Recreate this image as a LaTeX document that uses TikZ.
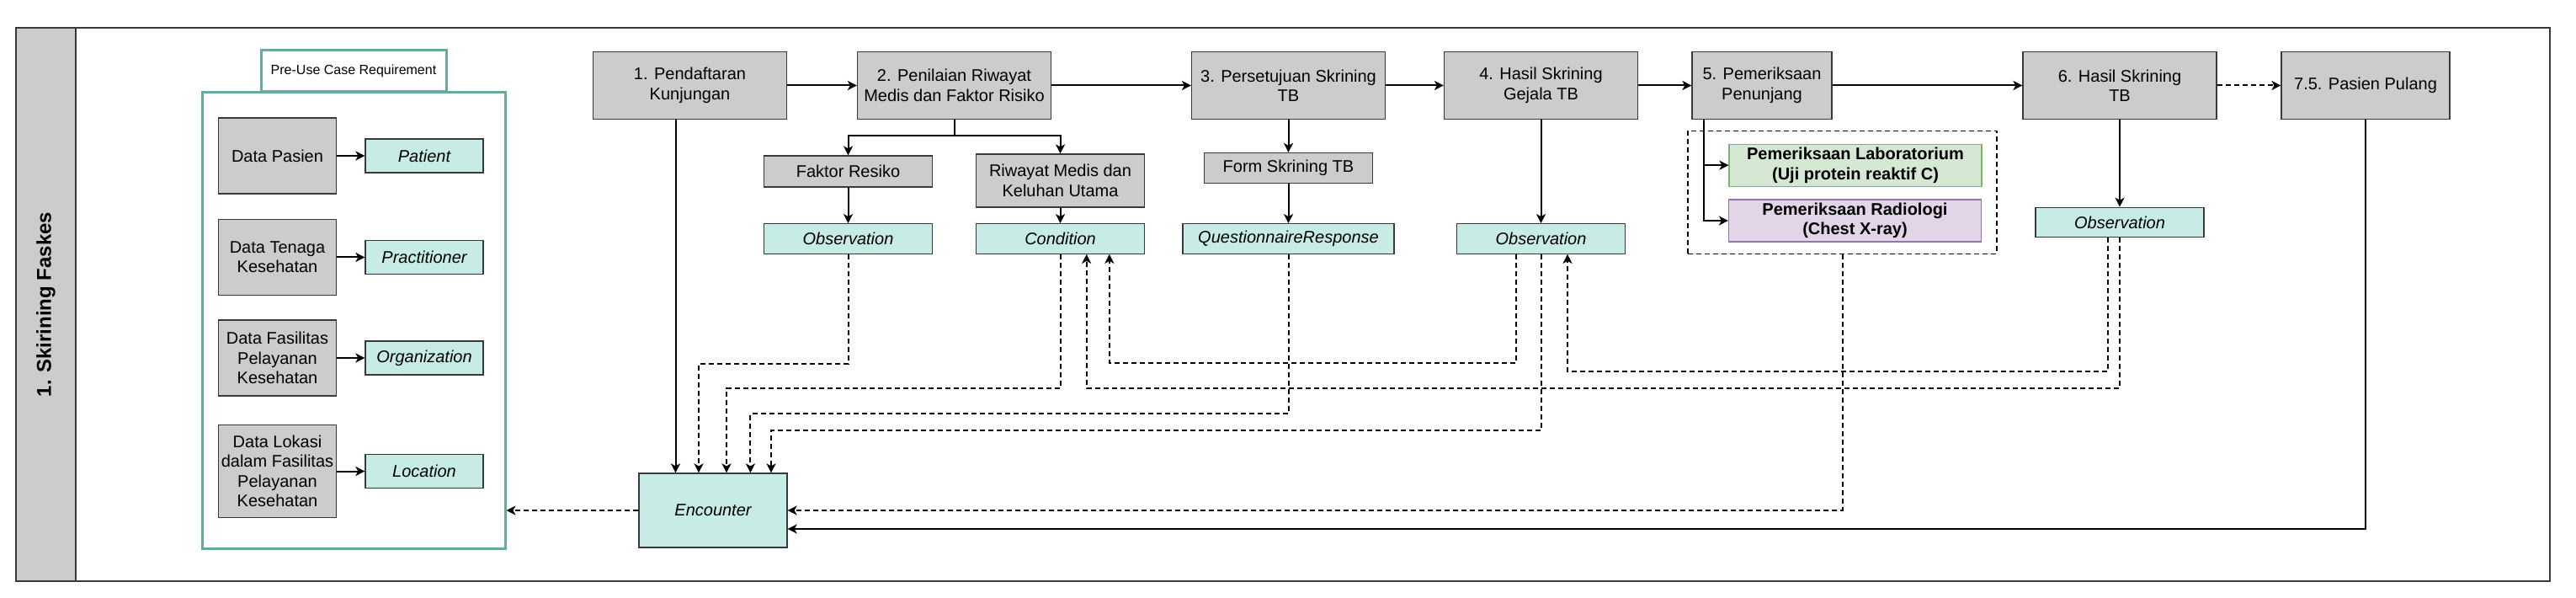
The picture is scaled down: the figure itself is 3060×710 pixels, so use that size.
\documentclass[tikz,border=0pt]{standalone}
\usepackage{fontspec}
\setmainfont{Liberation Sans}
\usetikzlibrary{arrows.meta,positioning,calc}
\definecolor{fkGrey}{HTML}{CCCCCC}
\definecolor{fkLine}{HTML}{36393D}
\definecolor{fkTeal}{HTML}{C7ECE5}
\definecolor{fkTealRule}{HTML}{67AB9F}
\definecolor{fkGreen}{HTML}{D5E8D4}
\definecolor{fkGreenRule}{HTML}{82B366}
\definecolor{fkPurple}{HTML}{E1D5E7}
\definecolor{fkPurpleRule}{HTML}{9673A6}

\begin{document}
\begin{tikzpicture}[x=0.5pt,y=-0.5pt,font=\fontsize{10}{11.7}\selectfont,
  gb/.style={draw=fkLine,fill=fkGrey,line width=0.6pt,inner sep=0pt,align=center,
             minimum width=100pt,minimum height=18pt},
  st/.style={gb,minimum width=115pt,minimum height=40pt},
  db/.style={gb,minimum width=70pt,minimum height=45pt},
  rs/.style={gb,fill=fkTeal,font=\fontsize{10}{11.7}\selectfont\itshape,minimum height=17.75pt},
  a/.style={-{Stealth[length=5.5pt,width=5.5pt,inset=1.5pt]},line width=1pt},
  da/.style={a,dash pattern=on 3pt off 2pt}]
\useasboundingbox (0,0) rectangle (3060,710);
% lane
\node[draw=fkLine,line width=1pt,minimum width=1505pt,minimum height=328.5pt] (lane) at (1524,361.5) {};
\node[draw=fkLine,fill=fkGrey,line width=1pt,rotate=90,minimum width=328.5pt,minimum height=35.5pt,
      font=\fontsize{12}{14}\selectfont\bfseries] (head) at (54.5,361.5) {1. Skirining Faskes};
% pre-use case requirement
\node[draw=fkTealRule,line width=1.5pt,minimum width=180pt,minimum height=270.5pt] (cont) at (420,380.5) {};
\node[draw=fkTealRule,line width=1.5pt,fill=white,minimum width=110pt,minimum height=24.5pt,
      font=\fontsize{8}{9.6}\selectfont] (tab) at (420,84.5) {Pre-Use Case Requirement};
\node[db] (dp) at (329.5,185)   {Data Pasien};
\node[db] (dt) at (329.5,305.5) {Data Tenaga\\Kesehatan};
\node[db] (df) at (329.5,425)   {Data Fasilitas\\Pelayanan\\Kesehatan};
\node[db,minimum height=55pt] (dl) at (329.5,559.5) {Data Lokasi\\dalam Fasilitas\\Pelayanan\\Kesehatan};
\node[rs,minimum width=70pt,minimum height=20pt] (pt) at (504,185)   {Patient};
\node[rs,minimum width=70pt,minimum height=20pt] (pr) at (504,305.5) {Practitioner};
\node[rs,minimum width=70pt,minimum height=20pt] (og) at (504,425)   {Organization};
\node[rs,minimum width=70pt,minimum height=20pt] (lc) at (504,559.5) {Location};
\draw[a] (dp) -- (pt);
\draw[a] (dt) -- (pr);
\draw[a] (df) -- (og);
\draw[a] (dl) -- (lc);
% steps
\node[st] (s1) at (819.5,101.5)  {1. Pendaftaran\\Kunjungan};
\node[st] (s2) at (1133.5,101.5) {2. Penilaian Riwayat\\Medis dan Faktor Risiko};
\node[st] (s3) at (1530.5,101.5) {3. Persetujuan Skrining\\TB};
\node[st] (s4) at (1830.5,101.5) {4. Hasil Skrining\\Gejala TB};
\node[st,minimum width=83pt] (s5) at (2093,101.5) {5. Pemeriksaan\\Penunjang};
\node[st] (s6) at (2518,101.5)   {6. Hasil Skrining\\TB};
\node[st,minimum width=100pt] (s7) at (2810,101.5) {7.5. Pasien Pulang};
\node[gb,minimum height=18.5pt] (fr) at (1007.5,203.5) {Faktor Resiko};
\node[gb,minimum height=31.5pt] (rw) at (1259.5,214.5) {Riwayat Medis dan\\Keluhan Utama};
\node[gb] (fm) at (1530.5,199.5) {Form Skrining TB};
\node[rs] (o1) at (1007.5,283.5) {Observation};
\node[rs] (cd) at (1259.5,283.5) {Condition};
\node[rs,minimum width=125.5pt] (qr) at (1530.5,283.5) {QuestionnaireResponse};
\node[rs] (o2) at (1830.5,283.5) {Observation};
\node[rs] (o3) at (2518,264)     {Observation};
\node[draw,line width=0.8pt,dash pattern=on 3pt off 2pt,minimum width=183.5pt,minimum height=73pt] (gp) at (2188.5,228.4) {};
\node[gb,fill=fkGreen,draw=fkGreenRule,font=\fontsize{10}{11.7}\selectfont\bfseries,minimum width=150pt,minimum height=25pt]
  (lb) at (2204,196.2) {Pemeriksaan Laboratorium\\(Uji protein reaktif C)};
\node[gb,fill=fkPurple,draw=fkPurpleRule,font=\fontsize{10}{11.7}\selectfont\bfseries,minimum width=150pt,minimum height=25pt]
  (rd) at (2203.5,262) {Pemeriksaan Radiologi\\(Chest X-ray)};
\node[rs,minimum width=88pt,minimum height=44pt] (en) at (847,606) {Encounter};
% flow
\draw[a] (s1) -- (s2);
\draw[a] (s2) -- (s3);
\draw[a] (s3) -- (s4);
\draw[a] (s4) -- (s5);
\draw[a] (s5) -- (s6);
\draw[da] (s6) -- (s7);
\draw[a] (s2.south) -- ++(0,18.5) -| (fr.north);
\draw[a] (s2.south) -- ++(0,18.5) -| (rw.north);
\draw[a] (fr) -- (o1);
\draw[a] (rw) -- (cd);
\draw[a] (s3) -- (fm);
\draw[a] (fm) -- (qr);
\draw[a] (s4) -- (o2);
\draw[a] (s6) -- (o3);
\draw[a] ([xshift=7.5pt]s5.south west) |- (lb.west);
\draw[a] ([xshift=7.5pt]s5.south west) |- (rd.west);
\draw[a] ([xshift=-8.5pt]s1.south) -- ([xshift=-8.5pt]s1.south |- en.north);
\draw[a] (s7.south) |- ([yshift=-11pt]en.east);
% references
\draw[da] (o1.south) -- ++(0,130) -| ([xshift=-8.5pt]en.north);
\draw[da] (cd.south) -- ++(0,159) -| ([xshift=8pt]en.north);
\draw[da] (qr.south) -- ++(0,189) -| ([xshift=22.2pt]en.north);
\draw[da] (o2.south) -- ++(0,209) -| ([xshift=34.5pt]en.north);
\draw[da] ([xshift=-14.75pt]o2.south) -- ++(0,129) -| ([xshift=29.15pt]cd.south);
\draw[da] ([xshift=-6.85pt]o3.south) -- ++(0,158.5) -| ([xshift=15.75pt]o2.south);
\draw[da] (o3.south) -- ++(0,178.5) -| ([xshift=15.6pt]cd.south);
\draw[da] (gp.south) |- (en.east);
\draw[da] (en.west) -- (en.west -| cont.east);
\end{tikzpicture}
\end{document}
